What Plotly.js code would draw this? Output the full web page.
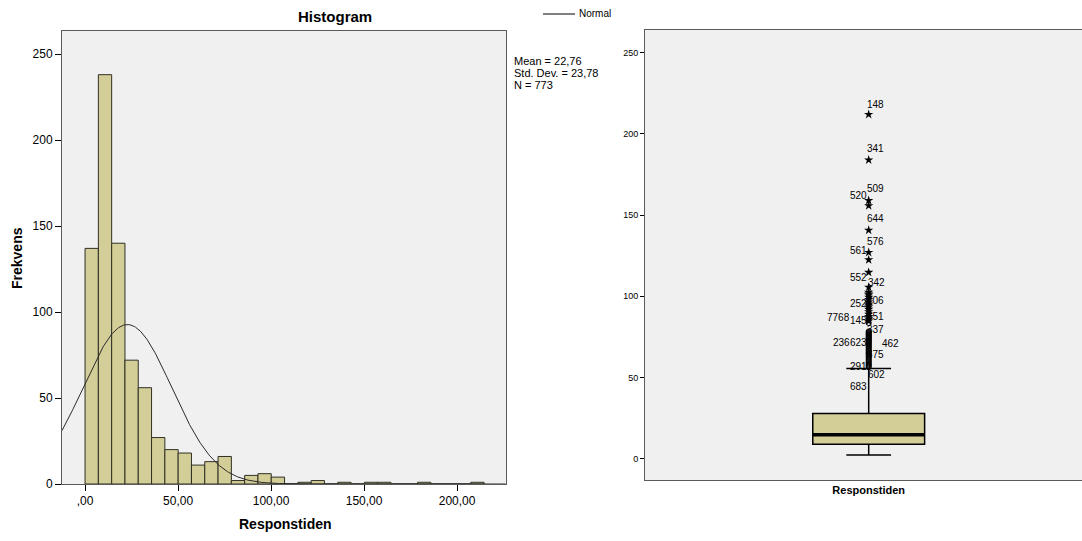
<!DOCTYPE html>
<html><head><meta charset="utf-8">
<script src="https://cdn.plot.ly/plotly-3.0.1.min.js"></script>
<style>html,body{margin:0;padding:0;background:#fff}#chart{width:1082px;height:541px}</style>
</head><body><div id="chart"></div>
<script>
// ---------- data ----------
const binStart = 0;
const binWidth = 7.15;
const binCounts = [137,238,140,72,56,27,20,18,11,13,16,2,5,6,4,0,1,2,0,1,0,1,1,0,0,1,0,0,0,1];
const normalMean = 22.76;
const normalSD = 23.78;
const normalN = 773;
const xTickVals = [0,50,100,150,200];
const xTickText = [',00','50,00','100,00','150,00','200,00'];
const yTickVals = [0,50,100,150,200,250];
const boxCategory = 'Responstiden';
const boxQ1 = 8.9, boxMedian = 14.8, boxQ3 = 27.8, boxLower = 2.3, boxUpper = 55.6;
const outlierValues = [83.6,78.4,78.0,77.5,77.1,76.6,76.2,75.7,75.3,74.8,74.4,73.9,73.5,73.0,72.6,72.1,71.7,
  71.2,70.6,70.0,69.5,68.9,68.4,67.8,67.3,66.7,66.2,65.6,65.1,64.6,
  64.0,63.4,62.7,62.1,61.4,60.8,60.1,59.5,58.8,58.2,57.6,57.0,56.3];
const extremeValues = [212,184,159,155.8,140.7,127,122.5,114.8,105.6,102.5,101.5,100.8,
  99.5,98,96.5,95.3,94.5,93.5,92,90.5,89,87.5,86,84.8];
const caseLabels = ['148','341','509','520','644','576','561','552','342','252','706','7768','145','551','337','236','623','462','675','291','602','683'];
const caseLabelValues = [218.3,191.2,166.5,162.2,148,133.8,128.2,111.5,108.5,95.5,97.3,86.9,85,87.5,79.4,71.4,71.4,70.8,64,56.6,51.7,44.3];
// label horizontal placement (pixels from box centre)
const caseLabelShift = [7,7,7,-10,7,7,-10,-10,8,-10,7,-30,-10,7,7,-27,-10,22,7,-10,8,-10];

// ---------- helpers ----------
const W = 1082, H = 541;
const px = x => x / W;
const py = y => 1 - y / H;
const fmt = v => v.toFixed(2).replace('.', ',');

const binCenters = binCounts.map((c, i) => binStart + (i + 0.5) * binWidth);
const xMin = -12.4, xMax = 226.3;
const curveX = [], curveY = [];
for (let x = xMin; x <= xMax; x += 0.5) {
  curveX.push(x);
  curveY.push(normalN * binWidth / (normalSD * Math.sqrt(2 * Math.PI)) *
    Math.exp(-0.5 * Math.pow((x - normalMean) / normalSD, 2)));
}

const fill = '#d3ce97';
const frame = '#5a5a5a';
const sans = 'Liberation Sans, Arial, sans-serif';
const narrow = 'Liberation Sans Narrow, Arial Narrow, Liberation Sans, Arial, sans-serif';

const traces = [
  {type: 'bar', x: binCenters, y: binCounts, width: binWidth, xaxis: 'x', yaxis: 'y',
   marker: {color: fill, line: {color: '#2f2f25', width: 1}}, hoverinfo: 'skip'},
  {type: 'scatter', mode: 'lines', x: curveX, y: curveY, xaxis: 'x', yaxis: 'y',
   line: {color: '#2a2a2a', width: 1}, hoverinfo: 'skip'},
  {type: 'box', x: [boxCategory], q1: [boxQ1], median: [boxMedian], q3: [boxQ3],
   lowerfence: [boxLower], upperfence: [boxUpper], xaxis: 'x2', yaxis: 'y2',
   fillcolor: fill, line: {color: '#000', width: 1.5}, width: 0.25, whiskerwidth: 0.4,
   boxpoints: false, hoverinfo: 'skip'},
  {type: 'scatter', mode: 'markers', x: outlierValues.map(() => boxCategory), y: outlierValues,
   xaxis: 'x2', yaxis: 'y2', marker: {symbol: 'circle-open', size: 5, color: '#000', line: {width: 1}}, hoverinfo: 'skip'},
  {type: 'scatter', mode: 'markers', x: extremeValues.map(() => boxCategory), y: extremeValues,
   xaxis: 'x2', yaxis: 'y2', marker: {symbol: 'star', size: 7, color: '#000'}, hoverinfo: 'skip'}
];

const annotations = [
  {text: '<b>Histogram</b>', xref: 'paper', yref: 'paper', x: px(335), y: py(17), showarrow: false,
   xanchor: 'center', yanchor: 'middle', font: {family: sans, size: 15, color: '#000'}},
  {text: '<b>Frekvens</b>', xref: 'paper', yref: 'paper', x: px(17), y: py(258), showarrow: false,
   textangle: -90, xanchor: 'center', yanchor: 'middle', font: {family: sans, size: 14, color: '#000'}},
  {text: '<b>Responstiden</b>', xref: 'paper', yref: 'paper', x: px(285), y: py(524), showarrow: false,
   xanchor: 'center', yanchor: 'middle', font: {family: sans, size: 14, color: '#000'}},
  {text: 'Normal', xref: 'paper', yref: 'paper', x: px(577), y: py(14), showarrow: false,
   xanchor: 'left', yanchor: 'middle', font: {family: sans, size: 10, color: '#000'}},
  {text: 'Mean = ' + fmt(normalMean), xref: 'paper', yref: 'paper', x: px(512), y: py(61), showarrow: false,
   xanchor: 'left', yanchor: 'middle', font: {family: sans, size: 11, color: '#000'}},
  {text: 'Std. Dev. = ' + fmt(normalSD), xref: 'paper', yref: 'paper', x: px(512), y: py(73), showarrow: false,
   xanchor: 'left', yanchor: 'middle', font: {family: sans, size: 11, color: '#000'}},
  {text: 'N = ' + normalN, xref: 'paper', yref: 'paper', x: px(512), y: py(85), showarrow: false,
   xanchor: 'left', yanchor: 'middle', font: {family: sans, size: 11, color: '#000'}}
];
caseLabels.forEach((lab, i) => {
  annotations.push({text: lab, xref: 'x2', yref: 'y2', x: 0, y: caseLabelValues[i], showarrow: false,
    xanchor: 'center', yanchor: 'middle', xshift: caseLabelShift[i],
    font: {family: narrow, size: 10, color: '#000'}});
});

const shapes = [
  {type: 'line', xref: 'paper', yref: 'paper', x0: px(543), x1: px(575), y0: py(14), y1: py(14),
   line: {color: '#000', width: 1}},
  {type: 'line', xref: 'x2', yref: 'y2', x0: -0.125, x1: 0.125, y0: boxMedian, y1: boxMedian,
   line: {color: '#000', width: 3.5}}
];

const layout = {
  width: W, height: H, margin: {l: 0, r: 0, t: 0, b: 0},
  paper_bgcolor: '#fff', plot_bgcolor: '#f0f0f0', showlegend: false,
  font: {family: sans, color: '#000'},
  xaxis: {domain: [px(62), px(506)], range: [xMin, xMax], tickvals: xTickVals, ticktext: xTickText,
    ticks: 'outside', ticklen: 6, tickcolor: '#000', showline: true, mirror: true, linecolor: frame,
    showgrid: false, zeroline: false, tickfont: {family: sans, size: 12, color: '#000'}, anchor: 'y'},
  yaxis: {domain: [py(484), py(31)], range: [0, 263.4], tickvals: yTickVals,
    ticks: 'outside', ticklen: 6, tickcolor: '#000', showline: true, mirror: true, linecolor: frame,
    showgrid: false, zeroline: false, tickfont: {family: sans, size: 12, color: '#000'}, anchor: 'x'},
  xaxis2: {domain: [px(645), 1], type: 'category', range: [-0.5, 0.4768], ticks: '',
    showline: true, mirror: true, linecolor: frame, showgrid: false, zeroline: false,
    tickfont: {family: narrow, size: 11, color: '#000', weight: 'bold'}, anchor: 'y2'},
  yaxis2: {domain: [py(480), py(30)], range: [-13.1, 264], tickvals: yTickVals,
    ticks: 'outside', ticklen: 4, tickcolor: '#000', showline: true, mirror: false, linecolor: frame,
    showgrid: false, zeroline: false, tickfont: {family: narrow, size: 9, color: '#000'}, anchor: 'x2'},
  annotations: annotations, shapes: shapes
};

Plotly.newPlot('chart', traces, layout, {staticPlot: true, displayModeBar: false});
</script>
</body></html>
